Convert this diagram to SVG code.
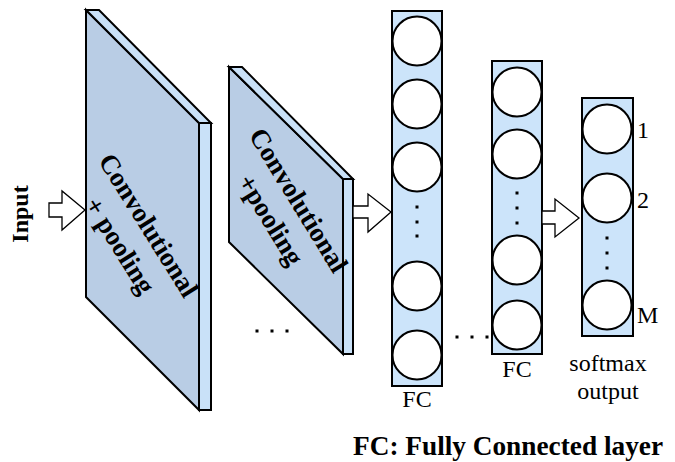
<svg xmlns="http://www.w3.org/2000/svg" width="675" height="462" viewBox="0 0 675 462">
<style>
.face{fill:#b9cde5;stroke:#000;stroke-width:2;stroke-linejoin:miter}
.strip{fill:#c9e1f8;stroke:#000;stroke-width:2}
.col{fill:#cce4fa;stroke:#000;stroke-width:2}
.node{fill:#fff;stroke:#000;stroke-width:2}
.arrow{fill:#fff;stroke:#000;stroke-width:1.3;stroke-linejoin:miter}
.bold{font-family:"Liberation Serif","Times New Roman",serif;font-weight:bold;fill:#000}
.conv{font-family:"Liberation Serif","Times New Roman",serif;font-weight:bold;fill:#000;font-size:27px}
.reg{font-family:"Liberation Serif","Times New Roman",serif;fill:#000;font-size:24px}
.dot{fill:#000}
</style>
<rect width="675" height="462" fill="#fff"/>
<g id="input-label">
<text class="bold" font-size="24" text-anchor="middle" transform="translate(28,214) rotate(-90)">Input</text>
</g>
<g id="conv1">
<polygon class="face" points="86,10 199,123 199,410 86,297"/>
<polygon class="strip" points="86,10 99,10 211,123 199,123"/>
<rect class="strip" x="199" y="123" width="12" height="287"/>
<g transform="translate(141,230) rotate(58)">
<text class="conv" text-anchor="middle" x="0" y="0">Convolutional</text>
<text class="conv" text-anchor="middle" x="2" y="35">+ pooling</text>
</g>
</g>
<g id="conv2">
<polygon class="face" points="229,67 343,179 343,354 229,242"/>
<polygon class="strip" points="229,67 242,67 353,179 343,179"/>
<rect class="strip" x="343" y="179" width="10" height="175"/>
<g transform="translate(291,205) rotate(58.5)">
<text class="conv" text-anchor="middle" x="0" y="0">Convolutional</text>
<text class="conv" text-anchor="middle" x="2" y="34">+pooling</text>
</g>
</g>
<g id="fc1">
<rect class="col" x="392" y="11" width="50" height="375"/>
<circle class="node" cx="417" cy="41" r="24.5"/>
<circle class="node" cx="417" cy="104" r="24.5"/>
<circle class="node" cx="417" cy="167" r="24.5"/>
<circle class="node" cx="417" cy="286" r="24.5"/>
<circle class="node" cx="417" cy="355" r="24.5"/>
<rect class="dot" x="415.5" y="205.5" width="3" height="3"/>
<rect class="dot" x="415.5" y="220.5" width="3" height="3"/>
<rect class="dot" x="415.5" y="234.5" width="3" height="3"/>
<text class="reg" text-anchor="middle" x="417" y="407">FC</text>
</g>
<g id="fc2">
<rect class="col" x="492" y="61" width="50" height="293"/>
<circle class="node" cx="517" cy="92" r="24.5"/>
<circle class="node" cx="517" cy="154" r="24.5"/>
<circle class="node" cx="517" cy="260" r="24.5"/>
<circle class="node" cx="517" cy="325" r="24.5"/>
<rect class="dot" x="515.5" y="191.5" width="3" height="3"/>
<rect class="dot" x="515.5" y="206.5" width="3" height="3"/>
<rect class="dot" x="515.5" y="221.5" width="3" height="3"/>
<text class="reg" text-anchor="middle" x="517" y="377">FC</text>
</g>
<g id="output">
<rect class="col" x="582" y="98" width="51" height="238"/>
<circle class="node" cx="607" cy="129" r="24.5"/>
<circle class="node" cx="607" cy="198" r="24.5"/>
<circle class="node" cx="607" cy="305" r="24.5"/>
<rect class="dot" x="605.5" y="236.5" width="3" height="3"/>
<rect class="dot" x="605.5" y="251.5" width="3" height="3"/>
<rect class="dot" x="605.5" y="266.5" width="3" height="3"/>
<text class="reg" x="637" y="138">1</text>
<text class="reg" x="637" y="208">2</text>
<text class="reg" x="637" y="323">M</text>
<text class="reg" text-anchor="middle" x="608" y="371">softmax</text>
<text class="reg" text-anchor="middle" x="608" y="399">output</text>
</g>
<g id="ellipsis">
<rect class="dot" x="255.5" y="329.5" width="3" height="3"/>
<rect class="dot" x="270.5" y="329.5" width="3" height="3"/>
<rect class="dot" x="285.5" y="329.5" width="3" height="3"/>
<rect class="dot" x="455.5" y="335.5" width="3" height="3"/>
<rect class="dot" x="470.5" y="335.5" width="3" height="3"/>
<rect class="dot" x="485.5" y="335.5" width="3" height="3"/>
</g>
<g id="connectors">
<polygon class="arrow" points="49,203 62,203 62,191 85,210 62,230 62,217 49,217"/>
<polygon class="arrow" points="353,206 368,206 368,194 391,212 368,232 368,218 353,218"/>
<polygon class="arrow" points="542,211 555,211 555,199 579,218 555,237 555,224 542,224"/>
</g>
<g id="legend">
<text class="bold" font-size="28" x="353" y="455" textLength="310" lengthAdjust="spacingAndGlyphs">FC: Fully Connected layer</text>
</g>
</svg>
